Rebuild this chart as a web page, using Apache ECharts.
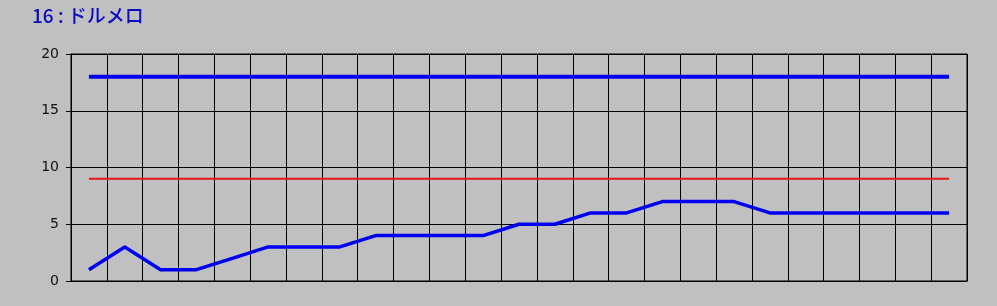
<!DOCTYPE html>
<html>
<head>
<meta charset="utf-8">
<script src="https://cdn.jsdelivr.net/npm/echarts@6/dist/echarts.min.js"></script>
<style>
html,body{margin:0;padding:0;background:#c0c0c0;}
#c{width:997px;height:306px;}
</style>
</head>
<body>
<div id="c"></div>
<script>
const titleText = '16 : ドルメロ';
const categories = ['1','2','3','4','5','6','7','8','9','10','11','12','13','14','15','16','17','18','19','20','21','22','23','24','25'];
const upperValues = [18,18,18,18,18,18,18,18,18,18,18,18,18,18,18,18,18,18,18,18,18,18,18,18,18];
const middleValues = [9,9,9,9,9,9,9,9,9,9,9,9,9,9,9,9,9,9,9,9,9,9,9,9,9];
const mainValues = [1,3,1,1,2,3,3,3,4,4,4,4,5,5,6,6,7,7,7,6,6,6,6,6,6];
const yTicks = [0,5,10,15,20];

const chart = echarts.init(document.getElementById('c'));
chart.setOption({
  backgroundColor: '#c0c0c0',
  animation: false,
  title: {
    text: titleText,
    left: 27, top: 1,
    textStyle: {color: '#0a0ac0', fontSize: 19, fontWeight: 500, fontFamily: 'Noto Sans CJK JP'}
  },
  grid: {left: 71, right: 30, top: 54, bottom: 25, show: true, borderColor: '#000', borderWidth: 1, backgroundColor: 'transparent'},
  xAxis: {
    type: 'category',
    data: categories,
    boundaryGap: true,
    axisLine: {show: true, lineStyle: {color: '#000', width: 1}},
    axisTick: {show: false},
    axisLabel: {show: false},
    splitLine: {show: true, interval: 0, lineStyle: {color: '#000', width: 1}}
  },
  yAxis: {
    type: 'value',
    min: yTicks[0], max: yTicks[yTicks.length-1], interval: 5,
    axisLine: {show: true, lineStyle: {color: '#000', width: 1}},
    axisTick: {show: true, length: 5, lineStyle: {color: '#000', width: 1}},
    axisLabel: {color: '#111', fontSize: 14, margin: 12, fontFamily: 'DejaVu Sans'},
    splitLine: {show: true, lineStyle: {color: '#000', width: 1}}
  },
  series: [
    {type: 'line', data: upperValues, symbol: 'none', lineStyle: {color: '#0000f0', width: 4}},
    {type: 'line', data: middleValues, symbol: 'none', lineStyle: {color: '#e8141a', width: 2}},
    {type: 'line', data: mainValues, symbol: 'none', lineStyle: {color: '#0000f0', width: 3.5}}
  ]
});
</script>
</body>
</html>
